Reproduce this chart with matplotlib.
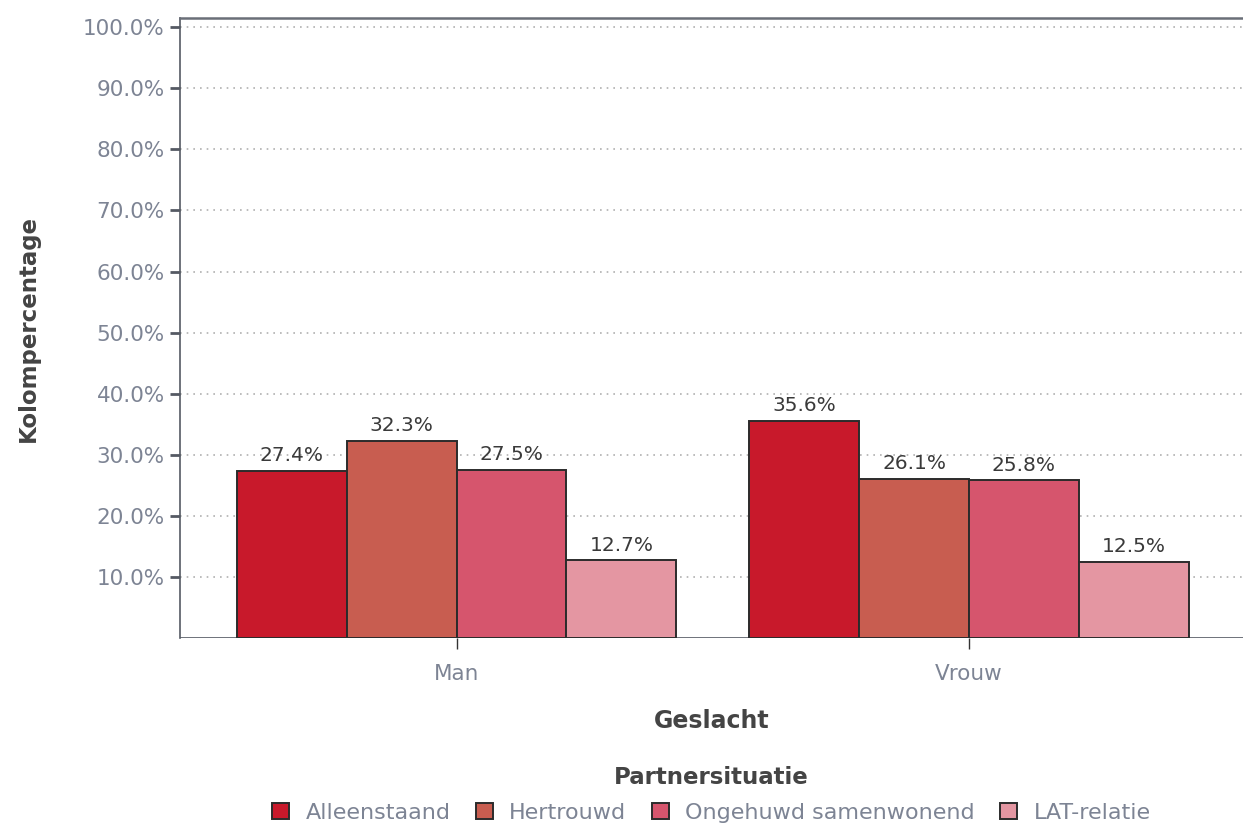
#%% libs
import matplotlib.pyplot as plt
import numpy as np

#%% data
groups = ['Man', 'Vrouw']
categories = ['Alleenstaand', 'Hertrouwd', 'Ongehuwd samenwonend', 'LAT-relatie']
values = {'Alleenstaand': [27.4, 35.6],
          'Hertrouwd': [32.3, 26.1],
          'Ongehuwd samenwonend': [27.5, 25.8],
          'LAT-relatie': [12.7, 12.5]}
yticks = [10, 20, 30, 40, 50, 60, 70, 80, 90, 100]

plot_colors = {'Alleenstaand': '#C8192B',
               'Hertrouwd': '#C85D50',
               'Ongehuwd samenwonend': '#D6556D',
               'LAT-relatie': '#E496A2'}

#%% plot
plt.rcParams['font.family'] = ['DejaVu Sans']
fig = plt.figure(figsize=(12.43, 8.23), dpi=100)
ax = fig.add_axes([0.1448, 0.2248, 0.8552, 0.7533])

x = np.arange(len(groups))
width = 0.2144
for i, cat in enumerate(categories):
    pos = x + (i - 1.5) * width
    ax.bar(pos, values[cat], width, color=plot_colors[cat],
           edgecolor='#2b2b2b', linewidth=1.4, label=cat, zorder=3)
    for xp, v in zip(pos, values[cat]):
        ax.annotate(f'{v:.1f}%', (xp, v), xytext=(0, 4),
                    textcoords='offset points', ha='center', va='bottom',
                    fontsize=14.5, color='#3a3a3a', zorder=4)

ax.set_xlim(-0.54, 1.535)
ax.set_ylim(0, 101.5)
ax.set_yticks(yticks)
ax.set_yticklabels([f'{t:.1f}%' for t in yticks])
ax.set_xticks(x)
ax.set_xticklabels(groups)

ax.grid(axis='y', linestyle=(0, (1, 3)), color='#b0b0b0', linewidth=1.2, zorder=0)
ax.axhline(0, color='#555a63', linewidth=1.2, zorder=2)

ax.spines['right'].set_visible(False)
ax.spines['bottom'].set_visible(False)
ax.spines['left'].set_color('#555a63')
ax.spines['top'].set_color('#6a6f78')
ax.spines['left'].set_linewidth(1.2)
ax.spines['top'].set_linewidth(1.8)

ax.tick_params(axis='y', colors='#555a63', labelcolor='#7d8494',
               labelsize=15.5, length=7, width=2, pad=4)
ax.tick_params(axis='x', colors='#333333', labelcolor='#7d8494',
               labelsize=15.5, length=8, width=1, pad=11)

ax.set_ylabel('Kolompercentage', fontsize=16.5, fontweight='bold',
              color='#444444')
ax.yaxis.set_label_coords(-0.132, 0.5)
ax.set_xlabel('Geslacht', fontsize=17, fontweight='bold', color='#444444')
ax.xaxis.set_label_coords(0.5, -0.115)

leg = ax.legend(loc='upper center', bbox_to_anchor=(0.5, -0.206), ncol=4,
                frameon=False, title='Partnersituatie', fontsize=16,
                title_fontsize=16.5, handlelength=0.75, handleheight=0.75,
                handletextpad=0.75, columnspacing=1.15, borderaxespad=0,
                borderpad=0, labelspacing=0.2)
leg.get_title().set_fontweight('bold')
leg.get_title().set_color('#444444')
leg._legend_box.sep = 10
for t in leg.get_texts():
    t.set_color('#7d8494')

plt.savefig('out.png', dpi=100)
